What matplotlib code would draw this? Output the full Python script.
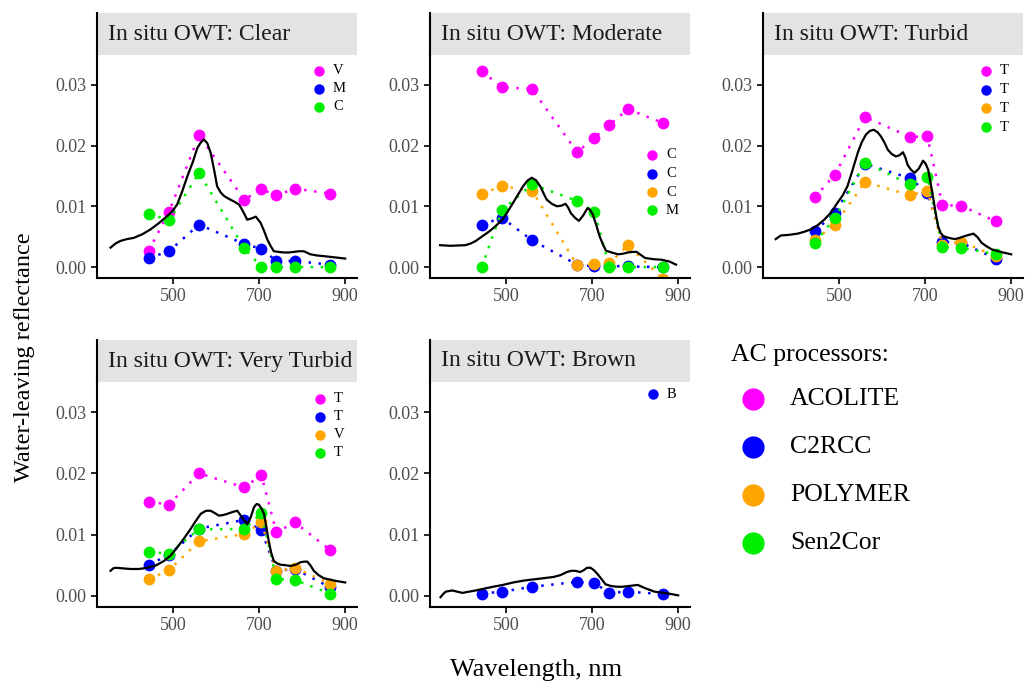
import matplotlib
matplotlib.use("Agg")
import matplotlib.pyplot as plt

plt.rcParams['font.family'] = ['Liberation Serif', 'DejaVu Serif']

# Sentinel-2 band centres used for the satellite points
bands = [443, 490, 560, 665, 705, 740, 783, 865]

# --- Clear ---
clear_acolite = [0.0027, 0.0091, 0.0217, 0.0111, 0.0128, 0.0118, 0.0129, 0.0121]
clear_c2rcc = [0.0015, 0.0026, 0.0070, 0.0038, 0.0030, 0.0010, 0.0010, 0.0004]
clear_sen2cor = [0.0088, 0.0077, 0.0155, 0.0031, 0.0000, 0.0000, 0.0000, 0.0000]
clear_wl = [354, 366, 377, 392, 408, 428, 447, 466, 486, 498, 509, 521, 533, 545, 556, 564,
            571, 579, 587, 595, 602, 610, 618, 630, 641, 653, 662, 672, 682, 692, 703,
            711, 719, 727, 734, 745, 757, 769, 781, 792, 804, 819, 835, 850, 875, 900]
clear_insitu = [0.0032, 0.0039, 0.0043, 0.0046, 0.0048, 0.0054, 0.0062, 0.0072, 0.0084,
                0.0092, 0.0103, 0.0125, 0.0150, 0.0172, 0.0196, 0.0205, 0.0210, 0.0204,
                0.0188, 0.0160, 0.0133, 0.0123, 0.0117, 0.0112, 0.0108, 0.0103, 0.0092,
                0.0078, 0.0080, 0.0083, 0.0073, 0.0060, 0.0045, 0.0034, 0.0026, 0.0025,
                0.0024, 0.0024, 0.0025, 0.0026, 0.0026, 0.0021, 0.0019, 0.0018, 0.0016,
                0.0014]

# --- Moderate ---
moderate_acolite = [0.0322, 0.0296, 0.0293, 0.0189, 0.0213, 0.0234, 0.0260, 0.0237]
moderate_c2rcc = [0.0070, 0.0081, 0.0044, 0.0004, 0.0001, 0.0002, 0.0001, 0.0000]
moderate_polymer = [0.0121, 0.0133, 0.0126, 0.0003, 0.0005, 0.0006, 0.0036, -0.0020]
moderate_sen2cor = [0.0000, 0.0094, 0.0136, 0.0109, 0.0091, 0.0000, 0.0000, 0.0000]
moderate_wl = [346, 370, 405, 418, 429, 445, 461, 476, 492, 504, 516, 528, 539, 549, 559,
               569, 579, 587, 594, 606, 618, 628, 638, 644, 650, 660, 669, 679, 689, 695,
               701, 709, 717, 725, 732, 745, 760, 772, 783, 793, 803, 813, 823, 842, 862,
               880, 895]
moderate_insitu = [0.0036, 0.0035, 0.0036, 0.0039, 0.0043, 0.0051, 0.0059, 0.0068, 0.0079,
                   0.0092, 0.0106, 0.0120, 0.0133, 0.0142, 0.0147, 0.0143, 0.0133, 0.0121,
                   0.0111, 0.0104, 0.0100, 0.0101, 0.0104, 0.0098, 0.0089, 0.0081, 0.0076,
                   0.0085, 0.0097, 0.0094, 0.0087, 0.0070, 0.0051, 0.0037, 0.0027, 0.0024,
                   0.0021, 0.0022, 0.0024, 0.0025, 0.0025, 0.0020, 0.0015, 0.0013, 0.0012,
                   0.0009, 0.0004]

# --- Turbid ---
turbid_wl = [352, 364, 383, 403, 418, 434, 450, 465, 481, 496, 508, 519, 531, 543, 552,
             562, 571, 580, 589, 597, 605, 613, 622, 632, 640, 648, 654, 659, 667, 675,
             685, 695, 701, 707, 712, 718, 724, 730, 736, 742, 755, 769, 780, 792, 802,
             812, 822, 831, 843, 855, 875, 900]
turbid_insitu = [0.0046, 0.0052, 0.0053, 0.0055, 0.0058, 0.0062, 0.0069, 0.0078, 0.0090,
                 0.0106, 0.0118, 0.0133, 0.0160, 0.0188, 0.0205, 0.0218, 0.0224, 0.0226,
                 0.0222, 0.0215, 0.0205, 0.0193, 0.0186, 0.0182, 0.0184, 0.0189, 0.0180,
                 0.0168, 0.0160, 0.0155, 0.0162, 0.0175, 0.0170, 0.0160, 0.0140, 0.0116,
                 0.0090, 0.0067, 0.0056, 0.0051, 0.0048, 0.0046, 0.0048, 0.0051, 0.0053,
                 0.0055, 0.0049, 0.0040, 0.0034, 0.0029, 0.0025, 0.0021]
turbid_acolite = [0.0115, 0.0152, 0.0247, 0.0214, 0.0215, 0.0102, 0.0101, 0.0075]
turbid_c2rcc = [0.0059, 0.0089, 0.0170, 0.0146, 0.0122, 0.0042, 0.0040, 0.0014]
turbid_polymer = [0.0045, 0.0070, 0.0140, 0.0118, 0.0126, 0.0037, 0.0042, 0.0018]
turbid_sen2cor = [0.0040, 0.0081, 0.0172, 0.0136, 0.0149, 0.0033, 0.0032, 0.0021]

# --- Very Turbid ---
vturbid_acolite = [0.0154, 0.0149, 0.0200, 0.0177, 0.0197, 0.0104, 0.0120, 0.0075]
vturbid_c2rcc = [0.0051, 0.0067, 0.0110, 0.0124, 0.0107, 0.0041, 0.0044, 0.0014]
vturbid_polymer = [0.0027, 0.0042, 0.0089, 0.0101, 0.0120, 0.0040, 0.0046, 0.0020]
vturbid_sen2cor = [0.0072, 0.0069, 0.0109, 0.0109, 0.0135, 0.0028, 0.0026, 0.0004]
vturbid_wl = [354, 360, 366, 383, 401, 420, 440, 460, 478, 494, 509, 525, 540, 552, 564,
              576, 587, 597, 606, 616, 626, 638, 649, 660, 672, 680, 688, 694, 699, 705,
              711, 716, 722, 728, 734, 742, 750, 762, 773, 785, 796, 804, 812, 820, 827,
              838, 850, 875, 900]
vturbid_insitu = [0.0041, 0.0045, 0.0046, 0.0045, 0.0044, 0.0044, 0.0046, 0.0050, 0.0057,
                  0.0066, 0.0079, 0.0094, 0.0109, 0.0122, 0.0134, 0.0139, 0.0139, 0.0135,
                  0.0131, 0.0132, 0.0134, 0.0137, 0.0139, 0.0128, 0.0117, 0.0128, 0.0145,
                  0.0150, 0.0149, 0.0143, 0.0134, 0.0115, 0.0090, 0.0070, 0.0057, 0.0053,
                  0.0051, 0.0050, 0.0049, 0.0051, 0.0055, 0.0056, 0.0056, 0.0049, 0.0041,
                  0.0034, 0.0029, 0.0025, 0.0022]

# --- Brown ---
brown_c2rcc = [0.0004, 0.0007, 0.0015, 0.0023, 0.0021, 0.0005, 0.0007, 0.0003]
brown_wl = [347, 353, 359, 374, 386, 398, 413, 429, 449, 469, 492, 516, 540, 563, 587,
            610, 626, 641, 651, 661, 672, 680, 688, 696, 704, 712, 720, 731, 745, 759, 770,
            782, 794, 806, 822, 845, 877, 900]
brown_insitu = [-0.0002, 0.0003, 0.0007, 0.0009, 0.0007, 0.0005, 0.0007, 0.0009, 0.0012,
                0.0015, 0.0018, 0.0022, 0.0025, 0.0027, 0.0029, 0.0031, 0.0034, 0.0039,
                0.0041, 0.0041, 0.0039, 0.0042, 0.0046, 0.0046, 0.0042, 0.0036, 0.0029,
                0.0019, 0.0016, 0.0015, 0.0015, 0.0016, 0.0017, 0.0018, 0.0013, 0.0007,
                0.0004, 0.0001]

processors = ['ACOLITE', 'C2RCC', 'POLYMER', 'Sen2Cor']
colors = {'ACOLITE': '#ff00ff', 'C2RCC': '#0000ff', 'POLYMER': '#ffa500', 'Sen2Cor': '#00ee00'}

panels = [
    ('Clear', {'ACOLITE': clear_acolite, 'C2RCC': clear_c2rcc, 'Sen2Cor': clear_sen2cor},
     clear_wl, clear_insitu, ['V', 'M', 'C']),
    ('Moderate', {'ACOLITE': moderate_acolite, 'C2RCC': moderate_c2rcc,
                  'POLYMER': moderate_polymer, 'Sen2Cor': moderate_sen2cor},
     moderate_wl, moderate_insitu, ['C', 'C', 'C', 'M']),
    ('Turbid', {'ACOLITE': turbid_acolite, 'C2RCC': turbid_c2rcc,
                'POLYMER': turbid_polymer, 'Sen2Cor': turbid_sen2cor},
     turbid_wl, turbid_insitu, ['T', 'T', 'T', 'T']),
    ('Very Turbid', {'ACOLITE': vturbid_acolite, 'C2RCC': vturbid_c2rcc,
                     'POLYMER': vturbid_polymer, 'Sen2Cor': vturbid_sen2cor},
     vturbid_wl, vturbid_insitu, ['T', 'T', 'V', 'T']),
    ('Brown', {'C2RCC': brown_c2rcc}, brown_wl, brown_insitu, ['B']),
]

W, H = 1025, 687
fig = plt.figure(figsize=(W / 100, H / 100), dpi=100)


def px_axes(l, t, r, b, **kw):
    return fig.add_axes([l / W, 1 - b / H, (r - l) / W, (b - t) / H], **kw)


# panel boxes in pixels: left, strip top, plot top, bottom
boxes = [(97, 13, 55, 278), (430, 13, 55, 278), (763, 13, 55, 278),
         (97, 340, 382, 607), (430, 340, 382, 607)]
pw = 260
# inner key position (marker x, first y, step) per panel
inner_leg = [(319, 71, 18), (652, 155, 18.5), (986, 71, 18.7), (320, 399, 18), (653, 394, 18)]

for (name, sats, wl, insitu, letters), (l, st, t, b), (lx, ly, step) in zip(panels, boxes, inner_leg):
    ax = px_axes(l, t, l + pw, b)
    for p in processors:
        if p in sats:
            ax.plot(bands, sats[p], linestyle=(0, (1, 3)), lw=1.8, color=colors[p],
                    marker='o', markersize=8.5, markeredgewidth=0, zorder=2)
    ax.plot(wl, insitu, color='black', lw=1.6, zorder=3)
    ax.set_xlim(322.5, 927.5)
    ax.set_ylim(-0.0018, 0.0349)
    ax.set_xticks([500, 700, 900])
    ax.set_yticks([0.0, 0.01, 0.02, 0.03])
    ax.set_yticklabels(['0.00', '0.01', '0.02', '0.03'])
    ax.tick_params(labelsize=13, labelcolor='#4d4d4d', length=4, width=1.2, color='black')
    for s in ['top', 'right']:
        ax.spines[s].set_visible(False)
    for s in ['left', 'bottom']:
        ax.spines[s].set_linewidth(1.5)

    # facet strip
    sax = px_axes(l, st, l + pw, t)
    sax.set_facecolor('#e3e3e3')
    sax.set_xticks([])
    sax.set_yticks([])
    for s in ['top', 'right', 'bottom']:
        sax.spines[s].set_visible(False)
    sax.spines['left'].set_linewidth(1.5)
    sax.text(11 / pw, 0.5, 'In situ OWT: ' + name, transform=sax.transAxes,
             fontsize=17, va='center', ha='left', color='#1a1a1a', clip_on=True)

    # small in-panel key
    for i, (p, letter) in enumerate(zip([p for p in processors if p in sats], letters)):
        yy = ly + i * step
        fig.lines.append(plt.Line2D([lx / W], [1 - yy / H], transform=fig.transFigure,
                                    marker='o', markersize=7.5, markeredgewidth=0,
                                    color=colors[p], linestyle='none'))
        fig.text((lx + 14) / W, 1 - yy / H, letter, fontsize=10.5, va='center', ha='left')

# axis titles
fig.text(25 / W, 1 - 357 / H, 'Water-leaving reflectance', rotation=90, fontsize=17.5,
         va='center', ha='center')
fig.text(536 / W, 1 - 670 / H, 'Wavelength, nm', fontsize=19, va='center', ha='center')

# processor legend
fig.text(731 / W, 1 - 355 / H, 'AC processors:', fontsize=18.5, va='center', ha='left')
leg_y = [399, 447, 495, 543]
for p, yy in zip(processors, leg_y):
    fig.lines.append(plt.Line2D([753 / W], [1 - yy / H], transform=fig.transFigure,
                                marker='o', markersize=16, markeredgewidth=0,
                                color=colors[p], linestyle='none'))
    fig.text(790 / W, 1 - yy / H, p, fontsize=18.5, va='center', ha='left')

fig.savefig('out.png', dpi=100)
